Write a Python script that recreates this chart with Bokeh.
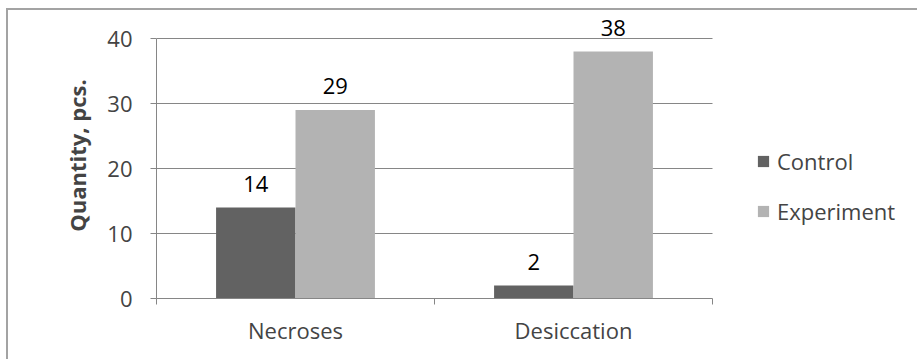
from bokeh.plotting import figure
from bokeh.models import (ColumnDataSource, FixedTicker, LinearAxis, Legend, LegendItem,
                          LabelSet, Range1d)
from bokeh.core.properties import value
from bokeh.embed import file_html
from bokeh.resources import INLINE

# Data
categories = ["Necroses", "Desiccation"]
control = [14, 2]
experiment = [29, 38]
y_ticks = [0, 10, 20, 30, 40]

FONT = "Open Sans"
FS = "22px"
GRID = "#868686"
C_CONTROL = "#626262"
C_EXPERIMENT = "#b3b3b3"

n = len(categories)
group_centers = [i + 0.5 for i in range(n)]
bar_w = 0.2857

src_c = ColumnDataSource(dict(x=[c - bar_w / 2 for c in group_centers], top=control,
                              lbl=[str(v) for v in control]))
src_e = ColumnDataSource(dict(x=[c + bar_w / 2 for c in group_centers], top=experiment,
                              lbl=[str(v) for v in experiment]))

# The frame is wider/taller than the value axes so the legend and the top
# value label have room; axes are bounded to the data extent.
p = figure(width=911, height=351, output_backend="svg", toolbar_location=None,
           x_range=Range1d(0, 2.7158), y_range=Range1d(0, 44),
           x_axis_location=None, y_axis_location=None,
           min_border_left=148, min_border_top=2, min_border_right=8, min_border_bottom=63,
           margin=(8, 0, 0, 6),
           styles={"border-left": "2px solid #a3a3a3", "border-top": "2px solid #a3a3a3"})
p.outline_line_color = None
p.background_fill_color = "white"
p.border_fill_color = "white"
p.xgrid.visible = False
p.ygrid.visible = False

# Horizontal gridlines across the category span
grid_y = [t for t in y_ticks if t > 0]
p.segment(x0=[0] * len(grid_y), x1=[n] * len(grid_y), y0=grid_y, y1=grid_y,
          line_color=GRID, line_width=1)

# Bars
r_c = p.vbar(x="x", top="top", width=bar_w, bottom=0, source=src_c,
             fill_color=C_CONTROL, line_color=None)
r_e = p.vbar(x="x", top="top", width=bar_w, bottom=0, source=src_e,
             fill_color=C_EXPERIMENT, line_color=None)

# Value labels above bars
for src in (src_c, src_e):
    p.add_layout(LabelSet(x="x", y="top", text="lbl", source=src, y_offset=16,
                          text_align="center", text_baseline="bottom",
                          text_font=value(FONT), text_font_size=value(FS),
                          text_color="black"))

# Y axis
yax = LinearAxis(ticker=FixedTicker(ticks=y_ticks), bounds=(0, 40),
                 axis_label="Quantity, pcs.",
                 axis_label_text_font=FONT, axis_label_text_font_style="bold",
                 axis_label_text_font_size="22px", axis_label_standoff=12,
                 major_label_text_font=FONT, major_label_text_font_size=FS,
                 major_label_standoff=18, major_tick_out=6, major_tick_in=0,
                 minor_tick_out=0, minor_tick_in=0,
                 axis_line_color=GRID, major_tick_line_color=GRID)
p.add_layout(yax, "left")

# X axis: boundary ticks between categories
xax = LinearAxis(ticker=FixedTicker(ticks=list(range(n + 1))), bounds=(0, n),
                 major_label_text_alpha=0, major_label_text_font_size="1px",
                 major_label_standoff=0,
                 major_tick_out=6, major_tick_in=0, minor_tick_out=0, minor_tick_in=0,
                 axis_line_color=GRID, major_tick_line_color=GRID)
p.add_layout(xax, "below")

# Category labels centred under each group
cax = LinearAxis(ticker=FixedTicker(ticks=group_centers),
                 major_label_overrides={c: name for c, name in zip(group_centers, categories)},
                 major_label_text_font=FONT, major_label_text_font_size=FS,
                 major_label_standoff=10, major_tick_out=0, major_tick_in=0,
                 minor_tick_out=0, minor_tick_in=0, axis_line_color=None)
p.add_layout(cax, "below")

legend = Legend(items=[LegendItem(label="Control", renderers=[r_c]),
                       LegendItem(label="Experiment", renderers=[r_e])],
                location=(600, 72), orientation="vertical",
                glyph_width=14, glyph_height=14, label_height=20, spacing=20,
                label_standoff=7, padding=0, margin=0,
                border_line_color=None, background_fill_alpha=0,
                label_text_font=FONT, label_text_font_size=FS)
p.add_layout(legend, "center")

open("out.html", "w").write(file_html(p, INLINE))
